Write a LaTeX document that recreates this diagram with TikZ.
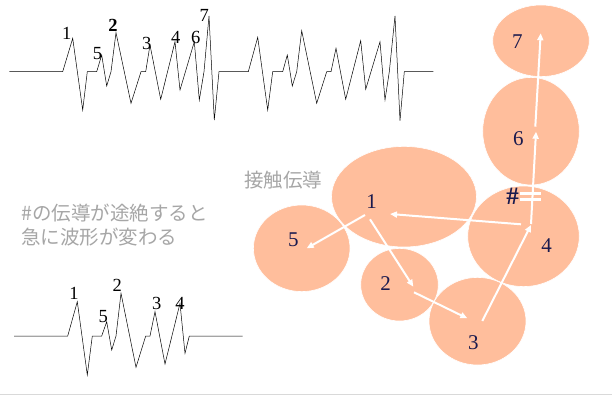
\documentclass[tikz,border=0pt]{standalone}
\usepackage{fontspec}
\setmainfont{Liberation Serif}
\newfontfamily\cjk{Noto Sans CJK JP}
\usetikzlibrary{shapes.geometric,arrows.meta}
\definecolor{peach}{HTML}{FFBE9C}
\definecolor{navy}{HTML}{1A1A4E}
\definecolor{graytxt}{HTML}{A6A6A6}
\tikzset{
  blob/.style={ellipse, fill=peach, draw=white, line width=0.6pt, inner sep=0pt},
  num/.style={font=\fontsize{21}{21}\selectfont, text=navy, inner sep=0pt},
  wlab/.style={font=\fontsize{18.5}{18.5}\selectfont, text=black, inner sep=0pt},
  wave/.style={line width=0.5pt, black, line join=miter},
  flow/.style={white, line width=2pt, -{Triangle[length=7pt,width=6pt]}},
  note/.style={font=\cjk\fontsize{19.5}{24}\selectfont, text=graytxt, inner sep=0pt, align=left}
}
\begin{document}
\begin{tikzpicture}[x=1pt,y=-1pt]
\useasboundingbox (0,0) rectangle (612,395);
\fill[white] (0,0) rectangle (612,395);
\draw[gray!30, line width=1pt] (0,394) -- (612,394);

% top waveform
\draw[wave] (9.3,71.7) -- (62.7,71.7) -- (72.7,38.3) -- (82.7,110) -- (87.3,71.7) -- (96.7,71.7)
  -- (101.7,55) -- (106.7,86) -- (111,71.7) -- (116,32.7) -- (131,103.3) -- (141,71.7) -- (145.7,71.7)
  -- (150,45) -- (160.7,99.3) -- (175,41.7) -- (180,90) -- (194.3,41.7) -- (199.3,100) -- (204,71.7)
  -- (209,16) -- (214.3,120) -- (219,71.7) -- (248.3,71.7)
  -- (257.7,37.3) -- (267.7,110) -- (272.7,71.7) -- (282.7,71.7)
  -- (287.3,55) -- (292.3,86) -- (296.7,71.7) -- (301.7,30.7) -- (316.7,103.3) -- (326.7,71.7) -- (331,71.7)
  -- (336,48.3) -- (345.7,99.3) -- (360.7,40.7) -- (365.7,89.3) -- (380,41.7) -- (385,100) -- (389.3,71.7)
  -- (395,16) -- (400,120.7) -- (404.3,71.7) -- (433.3,71.7);
\node[wlab] (t1) at (66.7,33) {1};
\node[wlab] (t5) at (97.5,54) {5};
\node[wlab,font=\bfseries\fontsize{18.5}{18.5}\selectfont] (t2) at (113,25) {2};
\node[wlab] (t3) at (146.7,43) {3};
\node[wlab] (t4) at (175.7,37) {4};
\node[wlab] (t6) at (195.7,37.7) {6};
\node[wlab] (t7) at (204.3,15) {7};

% bottom waveform
\draw[wave] (14,336) -- (67.7,336) -- (77.3,301.7) -- (87.3,375) -- (92.3,336) -- (101.7,336)
  -- (106.7,321.7) -- (111.7,350) -- (116,336) -- (121,293.3) -- (136,367.3) -- (145.7,336) -- (150,336)
  -- (155,311.7) -- (165,364) -- (180,303.3) -- (185,353.3) -- (189.3,336) -- (242.7,336);
\node[wlab] (b1) at (74,293.3) {1};
\node[wlab] (b5) at (103.3,316.7) {5};
\node[wlab] (b2) at (117.3,285) {2};
\node[wlab] (b3) at (156.7,303.3) {3};
\node[wlab] (b4) at (180,303.3) {4};

% notes
\node[note, anchor=west] (n1) at (244,180) {接触伝導};
\node[note, anchor=north west] (n2) at (21,204) {\#の伝導が途絶すると\\急に波形が変わる};

% blobs
\node[blob, minimum width=96.6pt, minimum height=86.6pt] (c5) at (301.7,248.3) {};
\node[blob, minimum width=145pt, minimum height=100.6pt] (c1) at (404,196.7) {};
\node[blob, minimum width=77.6pt, minimum height=72.6pt] (c2) at (399.5,284.7) {};
\node[blob, minimum width=97pt, minimum height=87.6pt] (c3) at (477.5,321.2) {};
\node[blob, minimum width=111.6pt, minimum height=100.6pt] (c4) at (523.5,236.3) {};
\node[blob, minimum width=96.6pt, minimum height=71.6pt] (c7) at (541,40.8) {};
\node[blob, minimum width=96.6pt, minimum height=107.6pt] (c6) at (531,131.2) {};

\node[num] (l1) at (371.7,201.7) {1};
\node[num] (l5) at (293.3,240) {5};
\node[num] (l2) at (385.7,284) {2};
\node[num] (l3) at (473.3,342.7) {3};
\node[num] (l4) at (546.7,246) {4};
\node[num] (l6) at (518.3,138.3) {6};
\node[num] (l7) at (517.3,41.7) {7};

% arrow endpoints
\coordinate (a15s) at (365,215);
\coordinate (a15e) at (306.7,248.3);
\coordinate (a12s) at (370,219.3);
\coordinate (a12e) at (413.3,286.7);
\coordinate (a23s) at (414,292.3);
\coordinate (a23e) at (467.3,318.3);
\coordinate (a34s) at (482.3,321);
\coordinate (a34e) at (531,225);
\coordinate (a41s) at (521,224.3);
\coordinate (a41e) at (390,214);
\coordinate (a46s) at (531,224);
\coordinate (a46e) at (536,131.7);
\coordinate (a67s) at (535.3,126.7);
\coordinate (a67e) at (540.7,33.3);

\draw[flow] (a15s) -- (a15e);
\draw[flow] (a12s) -- (a12e);
\draw[flow] (a23s) -- (a23e);
\draw[flow] (a34s) -- (a34e);
\draw[flow] (a41s) -- (a41e);
\draw[flow] (a46s) -- (a46e);
\draw[flow] (a67s) -- (a67e);

% break mark
\node[font=\bfseries\fontsize{25}{25}\selectfont, text=navy, inner sep=0pt] (hash) at (512.5,196) {\#};
\coordinate (eqa1) at (520,194);
\coordinate (eqb1) at (541,194);
\coordinate (eqa2) at (520,200);
\coordinate (eqb2) at (541,200);
\draw[white, line width=3pt] (eqa1) -- (eqb1);
\draw[white, line width=3pt] (eqa2) -- (eqb2);
\end{tikzpicture}
\end{document}
